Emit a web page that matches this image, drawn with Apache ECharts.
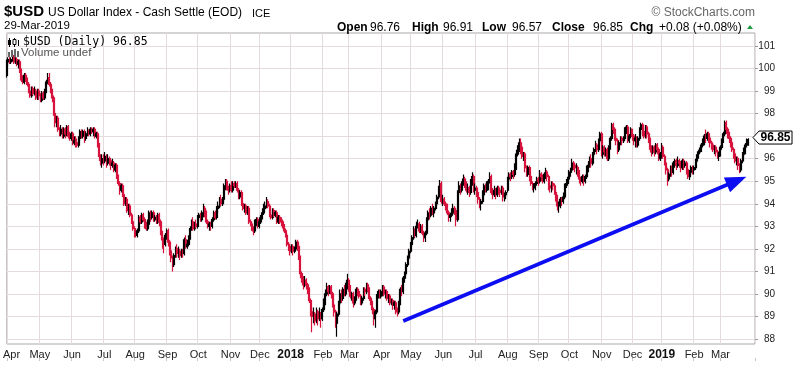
<!DOCTYPE html>
<html><head><meta charset="utf-8">
<script src="https://cdn.jsdelivr.net/npm/echarts@6/dist/echarts.min.js"></script>
<style>html,body{margin:0;padding:0;background:#fff}#c{width:800px;height:365px}</style>
</head><body><div id="c"></div>
<script>
// Tick labels for each month block (first trading day of month)
const monthLabels = ['Apr','May','Jun','Jul','Aug','Sep','Oct','Nov','Dec','2018','Feb','Mar','Apr','May','Jun','Jul','Aug','Sep','Oct','Nov','Dec','2019','Feb','Mar'];
// Daily candles per month: [open, close, low, high]
const m1704 = [[99.7,100.3,99.6,100.4],[100.3,100.4,100.1,100.5],[100.4,100.3,100.2,100.5],[100.3,100.4,100.2,100.5],[100.4,100.5,100.3,100.6],[100.5,100.3,100.2,100.6],[100.3,100.4,100.2,100.5],[100.4,100.2,100.1,100.5],[100.2,100.3,100.0,100.4],[100.3,99.9,99.8,100.4],[99.9,99.5,99.4,100.0],[99.5,99.4,99.3,99.7],[99.4,99.7,99.3,99.8],[99.7,99.5,99.4,99.8],[99.5,99.3,99.2,99.6],[99.3,99.0,98.9,99.4],[99.0,98.8,98.7,99.2],[98.8,99.1,98.7,99.2],[99.1,98.9,98.8,99.2],[98.9,99.0,98.8,99.2],[99.0,98.7,98.6,99.1],[98.7,99.0,98.6,99.1]];
const m1705 = [[99.0,98.8,98.6,99.1],[98.8,98.6,98.5,98.9],[98.6,98.9,98.5,99.0],[98.9,98.7,98.6,99.0],[98.7,99.0,98.6,99.1],[99.0,99.4,98.9,99.5],[99.4,99.6,99.3,99.8],[99.6,99.3,99.2,99.8],[99.3,99.0,98.9,99.4],[99.0,98.7,98.5,99.1],[98.7,98.0,97.9,98.8],[98.0,97.6,97.4,98.1],[97.6,97.8,97.4,97.9],[97.8,97.3,97.2,97.9],[97.3,97.1,97.0,97.4],[97.1,97.3,97.0,97.5],[97.3,97.0,96.9,97.4],[97.0,97.3,96.9,97.4],[97.3,97.1,96.9,97.4],[97.1,97.4,97.0,97.5],[97.4,97.0,96.9,97.5],[97.0,96.9,96.8,97.2]];
const m1706 = [[96.9,97.1,96.8,97.2],[97.1,96.7,96.6,97.2],[96.7,96.8,96.6,97.0],[96.8,96.7,96.5,97.0],[96.7,96.6,96.5,96.9],[96.6,96.9,96.5,97.0],[96.9,97.2,96.8,97.3],[97.2,97.0,96.9,97.3],[97.0,97.2,96.9,97.3],[97.2,96.9,96.7,97.3],[96.9,97.1,96.8,97.2],[97.1,97.2,97.0,97.4],[97.2,97.1,97.0,97.3],[97.1,97.3,97.0,97.4],[97.3,97.2,97.1,97.4],[97.2,97.3,97.0,97.4],[97.3,97.0,96.9,97.4],[97.0,97.1,96.9,97.2],[97.1,96.6,96.5,97.2],[96.6,96.1,95.9,96.7],[96.1,95.8,95.7,96.2],[95.8,96.0,95.6,96.2]];
const m1707 = [[96.0,95.9,95.7,96.2],[95.9,96.1,95.8,96.3],[96.1,95.8,95.6,96.2],[95.8,96.0,95.7,96.2],[96.0,95.9,95.7,96.1],[95.9,95.7,95.5,96.0],[95.7,95.8,95.6,96.0],[95.8,95.5,95.4,95.9],[95.5,95.7,95.4,95.8],[95.7,95.2,95.1,95.8],[95.2,94.9,94.8,95.3],[94.9,94.6,94.4,95.0],[94.6,94.8,94.5,94.9],[94.8,94.4,94.3,94.9],[94.4,94.0,93.9,94.5],[94.0,94.2,93.9,94.3],[94.2,93.7,93.6,94.3],[93.7,93.9,93.5,94.0],[93.9,93.5,93.4,94.0],[93.5,93.2,93.1,93.6],[93.2,92.9,92.8,93.3]];
const m1708 = [[92.9,92.7,92.5,93.0],[92.7,92.6,92.5,92.9],[92.6,92.8,92.5,92.9],[92.8,93.4,92.7,93.5],[93.4,93.2,93.1,93.5],[93.2,93.5,93.1,93.6],[93.5,93.3,93.2,93.6],[93.3,93.0,92.9,93.4],[93.0,92.9,92.8,93.2],[92.9,93.1,92.8,93.3],[93.1,93.6,93.0,93.7],[93.6,93.4,93.2,93.7],[93.4,93.6,93.3,93.7],[93.6,93.3,93.2,93.7],[93.3,93.4,93.2,93.5],[93.4,93.2,93.1,93.5],[93.2,93.5,93.1,93.6],[93.5,93.2,93.0,93.6],[93.2,92.7,92.6,93.3],[92.7,92.4,92.0,92.8],[92.4,92.2,91.8,92.5],[92.2,92.6,92.1,92.7]];
const m1709 = [[92.6,92.8,92.4,92.9],[92.8,92.3,92.1,92.9],[92.3,91.9,91.7,92.4],[91.9,91.6,91.4,92.0],[91.6,91.3,91.0,91.7],[91.3,91.7,91.2,91.8],[91.7,92.0,91.6,92.1],[92.0,91.8,91.6,92.2],[91.8,91.9,91.6,92.1],[91.9,91.7,91.5,92.0],[91.7,91.9,91.6,92.0],[91.9,91.8,91.6,92.0],[91.8,92.4,91.7,92.5],[92.4,92.1,92.0,92.6],[92.1,92.2,92.0,92.4],[92.2,92.5,92.1,92.6],[92.5,92.9,92.4,93.0],[92.9,93.2,92.8,93.3],[93.2,92.9,92.8,93.4],[92.9,93.1,92.8,93.2],[93.1,93.0,92.9,93.3]];
const m1710 = [[93.0,93.4,92.9,93.5],[93.4,93.5,93.3,93.6],[93.5,93.3,93.2,93.6],[93.3,93.6,93.2,93.7],[93.6,93.8,93.4,94.0],[93.8,93.6,93.4,93.9],[93.6,93.2,93.1,93.7],[93.2,93.0,92.9,93.3],[93.0,93.1,92.8,93.2],[93.1,93.0,92.8,93.2],[93.0,93.3,92.9,93.4],[93.3,93.6,93.2,93.7],[93.6,93.4,93.3,93.7],[93.4,93.8,93.3,93.9],[93.8,93.9,93.6,94.1],[93.9,94.2,93.8,94.3],[94.2,94.0,93.9,94.4],[94.0,94.2,93.9,94.3],[94.2,94.8,94.1,94.9],[94.8,95.0,94.6,95.1],[95.0,94.7,94.6,95.1],[94.7,94.6,94.4,94.8]];
const m1711 = [[94.6,94.8,94.5,94.9],[94.8,94.6,94.5,95.0],[94.6,94.9,94.5,95.0],[94.9,94.8,94.7,95.0],[94.8,94.9,94.7,95.0],[94.9,94.6,94.5,95.0],[94.6,94.3,94.2,94.7],[94.3,94.5,94.2,94.6],[94.5,94.0,93.9,94.6],[94.0,93.8,93.7,94.1],[93.8,93.9,93.6,94.0],[93.9,93.6,93.5,94.0],[93.6,93.8,93.5,93.9],[93.8,93.2,93.1,93.9],[93.2,93.1,93.0,93.3],[93.1,92.9,92.8,93.2],[92.9,92.8,92.6,93.0],[92.8,93.2,92.7,93.3],[93.2,93.3,93.0,93.4],[93.3,93.0,92.9,93.4]];
const m1712 = [[93.0,93.2,92.9,93.4],[93.2,93.4,93.1,93.5],[93.4,93.6,93.3,93.8],[93.6,93.8,93.5,94.0],[93.8,93.9,93.7,94.1],[93.9,94.1,93.8,94.3],[94.1,93.9,93.8,94.2],[93.9,93.5,93.4,94.0],[93.5,93.4,93.3,93.7],[93.4,93.7,93.3,93.8],[93.7,93.5,93.4,93.8],[93.5,93.6,93.4,93.7],[93.6,93.2,93.1,93.7],[93.2,93.4,93.1,93.5],[93.4,93.3,93.1,93.5],[93.3,93.2,93.0,93.4],[93.2,93.0,92.9,93.3],[93.0,92.8,92.7,93.1],[92.8,92.6,92.5,92.9],[92.6,92.2,92.1,92.7],[92.2,92.1,91.9,92.3]];
const m1801 = [[92.1,91.9,91.7,92.2],[91.9,92.1,91.8,92.2],[92.1,91.9,91.7,92.2],[91.9,92.0,91.8,92.1],[92.0,92.3,91.9,92.4],[92.3,92.1,91.9,92.4],[92.1,91.6,91.5,92.2],[91.6,90.9,90.7,91.7],[90.9,90.7,90.5,91.0],[90.7,90.4,90.2,90.8],[90.4,90.6,90.3,90.8],[90.6,90.4,90.2,90.7],[90.4,90.2,90.0,90.5],[90.2,89.7,89.6,90.3],[89.7,89.2,89.0,89.8],[89.2,89.0,88.3,89.4],[89.0,89.1,88.7,89.4],[89.1,88.8,88.6,89.2],[88.8,89.2,88.7,89.4],[89.2,88.9,88.6,89.3],[88.9,89.1,88.8,89.4],[89.1,88.9,88.5,89.2]];
const m1802 = [[88.9,89.3,88.8,89.4],[89.3,89.6,89.2,89.8],[89.6,90.0,89.5,90.2],[90.0,90.3,89.9,90.5],[90.3,90.1,89.9,90.4],[90.1,90.3,90.0,90.4],[90.3,90.0,89.8,90.4],[90.0,89.5,89.4,90.1],[89.5,89.2,89.0,89.6],[89.2,88.7,88.5,89.3],[88.7,89.1,88.1,89.2],[89.1,89.6,89.0,89.7],[89.6,90.0,89.5,90.2],[90.0,89.8,89.6,90.2],[89.8,90.2,89.7,90.3],[90.2,90.0,89.9,90.4],[90.0,90.4,89.9,90.5],[90.4,90.6,90.2,90.9]];
const m1803 = [[90.6,90.3,90.1,90.7],[90.3,89.9,89.8,90.4],[89.9,90.0,89.7,90.1],[90.0,89.6,89.4,90.1],[89.6,89.8,89.5,89.9],[89.8,90.2,89.7,90.3],[90.2,90.1,89.9,90.3],[90.1,89.9,89.8,90.2],[89.9,89.6,89.5,90.0],[89.6,89.8,89.5,89.9],[89.8,90.2,89.7,90.3],[90.2,90.1,89.9,90.3],[90.1,90.4,90.0,90.5],[90.4,90.2,90.1,90.5],[90.2,89.8,89.7,90.3],[89.8,89.6,89.5,89.9],[89.6,89.3,89.1,89.7],[89.3,88.9,88.6,89.4],[88.9,89.2,88.5,89.3],[89.2,89.9,89.1,90.0],[89.9,90.1,89.8,90.2],[90.1,89.9,89.8,90.2]];
const m1804 = [[89.9,90.1,89.8,90.2],[90.1,90.3,89.9,90.4],[90.3,90.0,89.9,90.4],[90.0,90.1,89.8,90.2],[90.1,89.8,89.7,90.2],[89.8,89.9,89.6,90.0],[89.9,89.6,89.5,90.0],[89.6,89.7,89.5,89.8],[89.7,89.5,89.3,89.8],[89.5,89.6,89.3,89.7],[89.6,89.3,89.1,89.7],[89.3,89.2,89.0,89.4],[89.2,89.6,89.1,89.7],[89.6,90.2,89.5,90.3],[90.2,90.1,89.9,90.4],[90.1,90.7,90.0,90.8],[90.7,90.9,90.5,91.0],[90.9,91.3,90.8,91.4],[91.3,91.6,91.2,91.7],[91.6,91.9,91.5,92.0]];
const m1805 = [[91.9,92.2,91.8,92.3],[92.2,92.5,92.1,92.6],[92.5,92.8,92.4,93.0],[92.8,92.6,92.5,92.9],[92.6,93.0,92.5,93.2],[93.0,93.1,92.9,93.3],[93.1,92.8,92.7,93.2],[92.8,93.0,92.7,93.1],[93.0,92.7,92.6,93.1],[92.7,92.5,92.3,92.8],[92.5,92.7,92.3,92.8],[92.7,93.3,92.6,93.4],[93.3,93.6,93.2,93.7],[93.6,93.5,93.3,93.8],[93.5,93.8,93.4,93.9],[93.8,93.6,93.5,94.0],[93.6,93.8,93.4,93.9],[93.8,94.0,93.7,94.1],[94.0,94.3,93.9,94.4],[94.3,94.7,94.2,94.8],[94.7,94.9,94.5,95.05],[94.9,94.1,94.0,95.0]];
const m1806 = [[94.1,94.2,93.9,94.4],[94.2,94.0,93.9,94.3],[94.0,93.9,93.7,94.1],[93.9,93.6,93.5,94.0],[93.6,93.4,93.2,93.7],[93.4,93.5,93.2,93.6],[93.5,93.6,93.4,93.8],[93.6,93.8,93.5,94.0],[93.8,93.7,93.5,93.9],[93.7,93.3,93.0,93.8],[93.3,94.5,93.2,94.6],[94.5,94.8,94.4,95.0],[94.8,94.6,94.4,94.9],[94.6,94.9,94.5,95.0],[94.9,95.1,94.8,95.3],[95.1,94.9,94.7,95.2],[94.9,94.6,94.5,95.0],[94.6,94.7,94.4,94.9],[94.7,94.5,94.3,94.8],[94.5,94.9,94.4,95.1],[94.9,95.2,94.8,95.4],[95.2,94.6,94.5,95.3]];
const m1807 = [[94.6,94.7,94.4,94.9],[94.7,94.5,94.3,94.8],[94.5,94.2,94.0,94.6],[94.2,94.0,93.8,94.3],[94.0,94.1,93.7,94.2],[94.1,94.4,94.0,94.6],[94.4,94.8,94.3,94.9],[94.8,94.6,94.5,94.9],[94.6,94.7,94.5,95.0],[94.7,95.0,94.6,95.1],[95.0,95.2,94.9,95.4],[95.2,94.5,94.4,95.3],[94.5,94.4,94.2,94.7],[94.4,94.6,94.3,94.8],[94.6,94.4,94.2,94.7],[94.4,94.7,94.3,94.8],[94.7,94.6,94.4,94.8],[94.6,94.5,94.3,94.7],[94.5,94.7,94.4,94.8],[94.7,94.3,94.1,94.8],[94.3,94.4,94.1,94.5],[94.4,94.5,94.2,94.6]];
const m1808 = [[94.6,95.1,94.5,95.2],[95.1,95.3,95.0,95.4],[95.3,95.2,95.0,95.4],[95.2,95.4,95.1,95.5],[95.4,95.3,95.1,95.5],[95.3,95.6,95.2,95.8],[95.6,96.2,95.5,96.4],[96.2,96.4,96.1,96.6],[96.4,96.7,96.3,96.9],[96.7,96.5,96.2,96.9],[96.5,96.1,96.0,96.6],[96.1,96.2,95.9,96.3],[96.2,95.6,95.4,96.3],[95.6,95.3,95.2,95.7],[95.3,95.6,95.2,95.7],[95.6,95.2,95.0,95.7],[95.2,94.9,94.8,95.3],[94.9,94.7,94.6,95.0],[94.7,94.8,94.5,94.9],[94.8,94.9,94.6,95.0],[94.9,95.1,94.8,95.2]];
const m1809 = [[95.1,95.0,94.8,95.2],[95.0,95.3,94.9,95.5],[95.3,95.2,95.0,95.4],[95.2,95.0,94.9,95.3],[95.0,95.3,94.9,95.4],[95.3,95.4,95.1,95.6],[95.4,95.2,95.0,95.5],[95.2,94.8,94.6,95.3],[94.8,94.7,94.5,94.9],[94.7,94.9,94.5,95.0],[94.9,94.8,94.6,95.0],[94.8,94.5,94.4,94.9],[94.5,94.3,94.1,94.6],[94.3,93.9,93.7,94.4],[93.9,94.0,93.6,94.1],[94.0,94.2,93.8,94.3],[94.2,94.1,93.9,94.3],[94.1,94.3,94.0,94.5],[94.3,94.8,94.2,94.9],[94.8,94.9,94.7,95.1],[94.9,95.1,94.8,95.2]];
const m1810 = [[95.1,95.4,95.0,95.5],[95.4,95.5,95.2,95.6],[95.5,95.8,95.4,96.0],[95.8,95.7,95.5,95.9],[95.7,95.6,95.4,95.8],[95.6,95.6,95.3,95.8],[95.6,95.4,95.2,95.7],[95.4,95.1,94.9,95.5],[95.1,95.0,94.8,95.2],[95.0,95.2,94.9,95.3],[95.2,95.0,94.8,95.3],[95.0,95.2,94.9,95.3],[95.2,95.6,95.1,95.7],[95.6,95.7,95.4,95.9],[95.7,96.0,95.6,96.1],[96.0,95.8,95.6,96.2],[95.8,96.2,95.7,96.3],[96.2,96.4,96.1,96.5],[96.4,96.6,96.3,96.8],[96.6,96.4,96.2,96.7],[96.4,96.8,96.3,96.9],[96.8,97.1,96.7,97.2]];
const m1811 = [[97.1,96.2,96.1,97.2],[96.2,96.5,96.0,96.6],[96.5,96.3,96.1,96.6],[96.3,96.4,96.1,96.5],[96.4,96.0,95.9,96.5],[96.0,96.5,95.9,96.6],[96.5,96.9,96.4,97.0],[96.9,97.5,96.8,97.6],[97.5,97.3,97.1,97.6],[97.3,96.9,96.8,97.4],[96.9,96.8,96.6,97.1],[96.8,96.4,96.2,96.9],[96.4,96.7,96.3,96.8],[96.7,96.9,96.6,97.0],[96.9,96.8,96.6,97.0],[96.8,96.9,96.7,97.0],[96.9,97.3,96.8,97.4],[97.3,97.4,97.1,97.5],[97.4,96.8,96.7,97.5],[96.8,97.0,96.7,97.1],[97.0,97.3,96.9,97.4]];
const m1812 = [[97.3,97.0,96.8,97.3],[97.0,96.8,96.6,97.1],[96.8,96.9,96.5,97.1],[96.9,96.6,96.5,97.0],[96.6,96.9,96.5,97.0],[96.9,97.3,96.8,97.4],[97.3,97.5,97.1,97.6],[97.5,97.2,97.0,97.6],[97.2,97.0,96.9,97.4],[97.0,97.4,96.9,97.5],[97.4,97.1,96.9,97.5],[97.1,96.9,96.7,97.2],[96.9,96.5,96.4,97.0],[96.5,96.3,96.1,96.6],[96.3,96.5,96.2,96.6],[96.5,96.3,96.1,96.6],[96.3,96.6,96.2,96.7],[96.6,96.4,96.2,96.7],[96.4,96.0,95.9,96.5],[96.0,96.2,95.9,96.3]];
const m1901 = [[96.2,96.5,96.0,96.7],[96.5,96.1,96.0,96.6],[96.1,95.8,95.7,96.2],[95.8,95.5,95.3,95.9],[95.5,95.1,94.8,95.6],[95.1,95.3,95.0,95.4],[95.3,95.6,95.2,95.7],[95.6,95.4,95.2,95.7],[95.4,95.8,95.3,95.9],[95.8,95.9,95.6,96.0],[95.9,95.7,95.5,96.0],[95.7,95.9,95.6,96.1],[95.9,95.8,95.6,96.0],[95.8,95.6,95.4,95.9],[95.6,95.9,95.5,96.0],[95.9,95.7,95.5,96.0],[95.7,95.8,95.6,95.9],[95.8,95.5,95.3,95.9],[95.5,95.2,95.1,95.6],[95.2,95.4,95.05,95.5],[95.4,95.6,95.3,95.7],[95.6,95.5,95.3,95.7]];
const m1902 = [[95.5,95.6,95.3,95.7],[95.6,95.9,95.5,96.0],[95.9,96.1,95.8,96.2],[96.1,96.3,96.0,96.4],[96.3,96.4,96.2,96.5],[96.4,96.6,96.3,96.7],[96.6,96.7,96.5,96.9],[96.7,97.0,96.6,97.1],[97.0,96.9,96.7,97.3],[96.9,97.1,96.8,97.2],[97.1,96.9,96.7,97.2],[96.9,96.7,96.5,97.0],[96.7,96.6,96.4,96.8],[96.6,96.4,96.3,96.7],[96.4,96.5,96.2,96.6],[96.5,96.3,96.1,96.6],[96.3,96.1,96.0,96.4],[96.1,96.2,95.9,96.3]];
const m1903 = [[96.2,96.5,96.1,96.6],[96.5,96.8,96.4,96.9],[96.8,97.1,96.7,97.2],[97.1,97.6,97.0,97.7],[97.6,97.3,97.1,97.7],[97.3,97.1,96.9,97.4],[97.1,96.9,96.7,97.2],[96.9,96.7,96.5,97.0],[96.7,96.4,96.3,96.8],[96.4,96.2,96.0,96.5],[96.2,95.9,95.8,96.3],[95.9,96.0,95.7,96.1],[96.0,95.7,95.5,96.1],[95.7,95.5,95.35,95.8],[95.5,95.9,95.4,96.0],[95.9,96.2,95.8,96.3],[96.2,96.3,96.1,96.5],[96.3,96.6,96.2,96.7],[96.6,96.77,96.5,96.9],[96.76,96.85,96.57,96.91]];
const months = [m1704,m1705,m1706,m1707,m1708,m1709,m1710,m1711,m1712,m1801,m1802,m1803,m1804,m1805,m1806,m1807,m1808,m1809,m1810,m1811,m1812,m1901,m1902,m1903];
// Trend arrow drawn on the chart: [category index, value]
const arrowStart = [270, 88.8];
const arrowEnd = [497, 95.02];
const padDays = 4;

const cats = [], candles = [];
months.forEach((m, mi) => m.forEach((d, i) => { cats.push(mi + '-' + i); candles.push(d); }));
for (let p = 0; p < padDays; p++) cats.push('p' + p);
const last = candles[candles.length - 1], prev = candles[candles.length - 2];
const chg = last[1] - prev[1];

const isMonthStart = (idx, val) => /-0$/.test(val);
const FONT = '"Liberation Sans", Arial, sans-serif';
const gridCol = '#e4dcdc';

const chart = echarts.init(document.getElementById('c'), null, {renderer: 'canvas'});
const opt = {
  animation: false,
  backgroundColor: '#fff',
  grid: [
    {left: 6, right: 45, top: 33, bottom: 21, show: true, borderColor: '#a9a9a9', borderWidth: 1, backgroundColor: '#fff'},
    {left: 6, right: 45, top: 46, bottom: 26}
  ],
  xAxis: [
    {gridIndex: 0, type: 'category', data: cats, boundaryGap: true,
     axisLine: {show: false}, axisTick: {show: false},
     axisLabel: {interval: isMonthStart, margin: 5, fontSize: 11, color: '#222', fontFamily: FONT,
       formatter: (val) => {
         const mi = +val.split('-')[0];
         const lab = monthLabels[mi];
         if (/^\d{4}$/.test(lab)) return '{b|' + lab + '}';
         if (mi === 0) return '{f|' + lab + '}';
         return lab;
       },
       rich: {b: {fontWeight: 'bold', fontSize: 12, fontFamily: FONT, color: '#111'},
              f: {fontSize: 11, fontFamily: FONT, color: '#222', padding: [0, 0, 0, 8]}}},
     splitLine: {show: true, interval: isMonthStart, lineStyle: {color: gridCol, width: 1}}},
    {gridIndex: 1, type: 'category', data: cats, boundaryGap: true, show: false},
    {gridIndex: 0, type: 'category', data: cats, boundaryGap: true, position: 'bottom', offset: 14,
     axisLine: {show: false}, axisLabel: {show: false}, splitLine: {show: false},
     axisTick: {show: true, interval: isMonthStart, length: 3, lineStyle: {color: '#c8c8c8'}}}
  ],
  yAxis: [
    {gridIndex: 0, type: 'value', min: 0, max: 1, show: false, splitLine: {show: false}},
    {gridIndex: 1, type: 'value', position: 'right', min: 88, max: 101, interval: 1,
     axisLine: {show: false},
     axisTick: {show: true, length: 3, lineStyle: {color: '#999'}},
     axisLabel: {align: 'right', margin: 20, fontSize: 10, color: '#222', fontFamily: FONT},
     splitLine: {show: true, lineStyle: {color: gridCol, width: 1}}}
  ],
  series: [{
    type: 'candlestick', xAxisIndex: 1, yAxisIndex: 1, data: candles, barWidth: 1.5,
    itemStyle: {color: '#000', color0: '#d7133d', borderColor: '#000', borderColor0: '#d7133d', borderWidth: 1.2},
    markLine: {
      silent: true, animation: false,
      symbol: ['none', 'triangle'], symbolSize: [16, 21],
      label: {show: false},
      lineStyle: {color: '#0d0df2', width: 3.6, type: 'solid'},
      data: [[{coord: [cats[arrowStart[0]], arrowStart[1]]}, {coord: [cats[arrowEnd[0]], arrowEnd[1]]}]]
    }
  }]
};
chart.setOption(opt);

const tagY = chart.convertToPixel({yAxisIndex: 1}, last[1]) - 2;
const txt = (text, x, y, font, fill, align) => ({type: 'text', silent: true, z: 100,
  style: {text, x, y, font, fill: fill || '#000', align: align || 'left', verticalAlign: 'middle'}});
const B12 = 'bold 12px ' + FONT, R12 = '12px ' + FONT;
const g = [
  txt('$USD', 4, 12, 'bold 15px ' + FONT),
  txt('US Dollar Index - Cash Settle (EOD)', 48, 13, '12px ' + FONT),
  txt('ICE', 252, 13.5, '11px ' + FONT),
  txt('29-Mar-2019', 4, 25.5, '11.5px ' + FONT),
  txt('\u00A9 StockCharts.com', 755, 12.5, '12px ' + FONT, '#666', 'right'),
  txt('Open', 337, 27.5, B12), txt(last[0].toFixed(2), 370, 27.5, R12),
  txt('High', 412, 27.5, B12), txt(last[3].toFixed(2), 443, 27.5, R12),
  txt('Low', 482, 27.5, B12), txt(last[2].toFixed(2), 512, 27.5, R12),
  txt('Close', 552, 27.5, B12), txt(last[1].toFixed(2), 593, 27.5, R12),
  txt('Chg', 630, 27.5, B12),
  txt((chg >= 0 ? '+' : '') + chg.toFixed(2) + ' (' + (chg >= 0 ? '+' : '') + (chg / prev[1] * 100).toFixed(2) + '%)', 659, 27.5, R12),
  {type: 'polygon', silent: true, z: 100, shape: {points: [[747, 29], [753, 29], [750, 25]]}, style: {fill: '#1f9a3e'}},
  // legend lines
  txt('$USD (Daily) ' + last[1].toFixed(2), 23, 42.5, '11.5px "DejaVu Sans Mono", monospace'),
  txt('Volume undef', 21, 53, '11.5px ' + FONT, '#555'),
  // candle icon
  {type: 'line', silent: true, z: 100, shape: {x1: 9.5, y1: 38, x2: 9.5, y2: 47}, style: {stroke: '#000', lineWidth: 1}},
  {type: 'rect', silent: true, z: 100, shape: {x: 8, y: 40, width: 3, height: 5}, style: {fill: '#000'}},
  {type: 'line', silent: true, z: 100, shape: {x1: 14.5, y1: 38, x2: 14.5, y2: 47}, style: {stroke: '#000', lineWidth: 1}},
  {type: 'rect', silent: true, z: 100, shape: {x: 13, y: 39.5, width: 3, height: 5}, style: {fill: '#fff', stroke: '#000', lineWidth: 1}},
  {type: 'line', silent: true, z: 100, shape: {x1: 18.5, y1: 40, x2: 18.5, y2: 46}, style: {stroke: '#000', lineWidth: 1}},
  // volume icon
  {type: 'rect', silent: true, z: 100, shape: {x: 8, y: 52, width: 2, height: 5}, style: {fill: '#666'}},
  {type: 'rect', silent: true, z: 100, shape: {x: 11, y: 50, width: 2, height: 7}, style: {fill: '#666'}},
  {type: 'rect', silent: true, z: 100, shape: {x: 14, y: 49, width: 2, height: 8}, style: {fill: '#666'}},
  {type: 'rect', silent: true, z: 100, shape: {x: 17, y: 51, width: 2, height: 6}, style: {fill: '#666'}},
  // price tag
  {type: 'polygon', silent: true, z: 100, shape: {points: [[753, tagY], [759, tagY - 6.5], [792, tagY - 6.5], [792, tagY + 6.5], [759, tagY + 6.5]]},
   style: {fill: '#fff', stroke: '#000', lineWidth: 1}},
  txt(last[1].toFixed(2), 775.5, tagY + 0.5, 'bold 12px ' + FONT, '#000', 'center')
];
chart.setOption({graphic: g});
</script></body></html>
